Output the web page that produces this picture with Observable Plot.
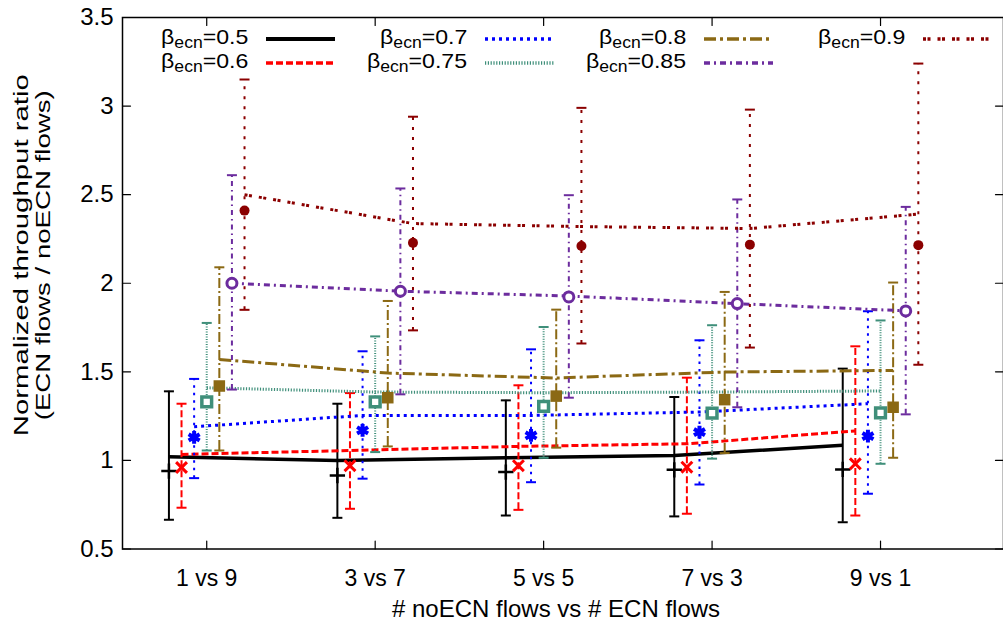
<!DOCTYPE html>
<html><head><meta charset="utf-8">
<script src="https://cdn.jsdelivr.net/npm/d3@7"></script>
<script src="https://cdn.jsdelivr.net/npm/@observablehq/plot@0.6"></script>
<style>
body{margin:0;background:#fff;}
#wrap{position:relative;width:1003px;height:623px;overflow:hidden;font-family:"Liberation Sans",Arial,Helvetica,sans-serif;}
.leg{position:absolute;font-size:21px;line-height:18px;height:18px;white-space:nowrap;color:#000;text-align:right;transform-origin:100% 50%;transform:scaleX(1.1);}
.leg sub{font-size:16px;vertical-align:-4px;line-height:0;}
.sample{position:absolute;}
</style></head><body><div id="wrap"></div><script>
// ---- data ----
const categories = ["1 vs 9", "3 vs 7", "5 vs 5", "7 vs 3", "9 vs 1"];
const yTicks = [0.5, 1, 1.5, 2, 2.5, 3, 3.5];
const betas = ["0.5", "0.6", "0.7", "0.75", "0.8", "0.85", "0.9"];

// line (mean) values per beta
const mean05  = [1.02, 1.00, 1.015, 1.028, 1.085];
const mean06  = [1.034, 1.056, 1.079, 1.094, 1.166];
const mean07  = [1.19, 1.254, 1.254, 1.273, 1.32];
const mean075 = [1.41, 1.386, 1.382, 1.386, 1.392];
const mean08  = [1.57, 1.493, 1.465, 1.499, 1.508];
const mean085 = [2.00, 1.955, 1.928, 1.885, 1.844];
const mean09  = [2.50, 2.337, 2.32, 2.309, 2.39];

// point (median) values per beta
const mid05  = [0.94, 0.915, 0.934, 0.947, 0.949];
const mid06  = [0.96, 0.97, 0.97, 0.962, 0.981];
const mid07  = [1.13, 1.17, 1.141, 1.16, 1.137];
const mid075 = [1.33, 1.33, 1.305, 1.267, 1.269];
const mid08  = [1.42, 1.354, 1.363, 1.343, 1.30];
const mid085 = [2.00, 1.955, 1.923, 1.885, 1.844];
const mid09  = [2.41, 2.228, 2.21, 2.218, 2.215];

// error bar low / high
const low05  = [0.665, 0.676, 0.689, 0.684, 0.651];
const low06  = [0.733, 0.727, 0.721, 0.699, 0.689];
const low07  = [0.90, 0.897, 0.877, 0.864, 0.812];
const low075 = [1.056, 1.047, 1.015, 1.01, 0.981];
const low08  = [1.056, 1.079, 1.072, 1.041, 1.015];
const low085 = [1.40, 1.373, 1.354, 1.30, 1.26];
const low09  = [1.85, 1.734, 1.66, 1.637, 1.54];

const high05  = [1.39, 1.32, 1.339, 1.358, 1.518];
const high06  = [1.32, 1.38, 1.424, 1.467, 1.644];
const high07  = [1.46, 1.616, 1.627, 1.678, 1.842];
const high075 = [1.776, 1.70, 1.753, 1.763, 1.79];
const high08  = [2.09, 1.90, 1.851, 1.951, 2.004];
const high085 = [2.61, 2.535, 2.497, 2.473, 2.431];
const high09  = [3.15, 2.94, 2.99, 2.98, 3.24];

const means = [mean05, mean06, mean07, mean075, mean08, mean085, mean09];
const mids  = [mid05, mid06, mid07, mid075, mid08, mid085, mid09];
const lows  = [low05, low06, low07, low075, low08, low085, low09];
const highs = [high05, high06, high07, high075, high08, high085, high09];

// ---- styles ----
const colors   = ["#000000", "#ff0000", "#0000ff", "#3f8f7a", "#8b6914", "#6c2c9e", "#8b0000"];
const lineDash = [null, "7,3", "3,4", "1.2,1.6", "12,4,3,4", "6,4,2,4", "3,1.5,3,7"];
const errDash  = [null, "7,3", "2.5,5", "1,1.5", "10,3,2,3", "5,4,1.5,4", "3,7"];
const lineW    = [3.5, 3, 3, 3, 3, 3, 3];
const errW     = [2, 2, 2, 2, 2, 2, 2];
const hbar = {draw(ctx, size) { const w = Math.sqrt(size / Math.PI); ctx.moveTo(-w, 0); ctx.lineTo(w, 0); }};
const markers = [
  {symbol: "plus", r: 5, fill: "none", sw: 2.5},
  {symbol: "times", r: 5, fill: "none", sw: 3},
  {symbol: "asterisk", r: 6, fill: "none", sw: 4},
  {symbol: "square", r: 5.5, fill: "white", sw: 3.5},
  {symbol: "square", r: 6.5, fill: "fill", sw: 0},
  {symbol: "circle", r: 5, fill: "white", sw: 3},
  {symbol: "circle", r: 5, fill: "fill", sw: 0}
];
const tick = {draw(ctx, l) { ctx.moveTo(0, 0); ctx.lineTo(0, -l); }};
const font = '"Liberation Sans", Arial, Helvetica, sans-serif';

const marks = [];
betas.forEach((b, s) => {
  const rows = categories.map((c, i) => ({i, mean: means[s][i], mid: mids[s][i], lo: lows[s][i], hi: highs[s][i]}));
  const dx = (s - 3) * 12.6;
  const col = colors[s];
  marks.push(Plot.ruleX(rows, {x: "i", y1: "lo", y2: "hi", dx, stroke: col, strokeWidth: errW[s], strokeDasharray: errDash[s]}));
  marks.push(Plot.dot(rows, {x: "i", y: "lo", dx, symbol: hbar, r: 5, stroke: col, strokeWidth: errW[s], fill: "none"}));
  marks.push(Plot.dot(rows, {x: "i", y: "hi", dx, symbol: hbar, r: 5, stroke: col, strokeWidth: errW[s], fill: "none"}));
  marks.push(Plot.line(rows, {x: "i", y: "mean", dx, stroke: col, strokeWidth: lineW[s], strokeDasharray: lineDash[s], strokeLinecap: "butt"}));
  const m = markers[s];
  marks.push(Plot.dot(rows, {x: "i", y: "mid", dx, symbol: m.symbol, r: m.r,
    fill: m.fill === "fill" ? col : m.fill, stroke: m.sw ? col : "none", strokeWidth: m.sw}));
});

const chart = Plot.plot({
  width: 1003, height: 623,
  marginLeft: 122, marginRight: 0, marginTop: 17, marginBottom: 74.5,
  x: {domain: [-0.5, 4.73], axis: null},
  y: {domain: [0.5, 3.5], axis: null},
  style: {fontFamily: font, color: "#000", background: "white"},
  marks: [
    ...marks,
    Plot.frame({stroke: "#000", strokeWidth: 1.5}),
    // inward ticks
    Plot.vector(yTicks, {y: d => d, frameAnchor: "left", rotate: 90, length: 8, anchor: "start", shape: tick, stroke: "#000", strokeWidth: 1.2}),
    Plot.vector(yTicks, {y: d => d, frameAnchor: "right", rotate: -90, length: 8, anchor: "start", shape: tick, stroke: "#000", strokeWidth: 1.2}),
    Plot.vector(categories, {x: (d, i) => i, frameAnchor: "bottom", rotate: 0, length: 8, anchor: "start", shape: tick, stroke: "#000", strokeWidth: 1.2}),
    Plot.vector(categories, {x: (d, i) => i, frameAnchor: "top", rotate: 180, length: 8, anchor: "start", shape: tick, stroke: "#000", strokeWidth: 1.2}),
    // tick labels
    Plot.text(yTicks, {y: d => d, frameAnchor: "left", textAnchor: "end", dx: -9, text: d => String(d), fontSize: 24}),
    Plot.text(categories, {x: (d, i) => i, frameAnchor: "bottom", dy: 30, text: d => d, fontSize: 23, lineAnchor: "middle"}),
    // axis titles
    Plot.text(["# noECN flows vs # ECN flows"], {frameAnchor: "bottom", textAnchor: "middle", dx: -7, dy: 60, fontSize: 24, lineAnchor: "middle"}),
    Plot.text(["Normalized throughput ratio\n(ECN flows / noECN flows)"], {frameAnchor: "left", textAnchor: "middle", rotate: -90, dx: -91, dy: -28, fontSize: 21, lineHeight: 1.05, lineAnchor: "middle", className: "ytitle"})
  ]
});
const wrap = document.getElementById("wrap");
wrap.appendChild(chart);
// stretch the y title lines to the reference's length
const ySpans = chart.querySelectorAll(".ytitle tspan");
const yLens = [362, 330];
ySpans.forEach((t, k) => { t.setAttribute("textLength", yLens[k] || 330); t.setAttribute("lengthAdjust", "spacingAndGlyphs"); });

// ---- legend (inside plot area, top) ----
betas.forEach((b, s) => {
  const c = Math.floor(s / 2), r = s % 2;
  const rightEdge = 248 + c * 219;
  const cy = 38 + r * 24;
  const t = document.createElement("div");
  t.className = "leg";
  t.style.right = (1003 - rightEdge) + "px";
  t.style.top = (cy - 10) + "px";
  t.innerHTML = "β<sub>ecn</sub>=" + b;
  wrap.appendChild(t);
  const ns = "http://www.w3.org/2000/svg";
  const sv = document.createElementNS(ns, "svg");
  sv.setAttribute("class", "sample");
  sv.setAttribute("width", 70); sv.setAttribute("height", 10);
  sv.style.left = (266 + c * 219) + "px";
  sv.style.top = (cy - 4) + "px";
  const ln = document.createElementNS(ns, "line");
  ln.setAttribute("x1", 0); ln.setAttribute("x2", 69); ln.setAttribute("y1", 5); ln.setAttribute("y2", 5);
  ln.setAttribute("stroke", colors[s]); ln.setAttribute("stroke-width", lineW[s] + 0.5);
  if (lineDash[s]) ln.setAttribute("stroke-dasharray", lineDash[s]);
  sv.appendChild(ln);
  wrap.appendChild(sv);
});
</script></body></html>
